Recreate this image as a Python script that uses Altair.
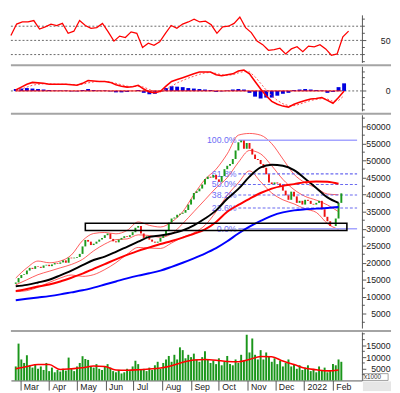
import altair as alt
import pandas as pd

# ---------------- data ----------------
START = "2021-02-24"

close = [14200, 15500, 16400, 16600, 17700, 18500, 18200, 19000, 18800, 18500,
         19200, 19400, 19000, 19500, 19900, 19700, 20100, 20700, 20000, 21500,
         21300, 21500, 21700, 22600, 24800, 26700, 26200, 25200, 25600, 26200,
         26800, 27300, 28100, 28600, 27000, 26300, 26000, 26800, 27300, 27800,
         27600, 28100, 29000, 30300, 30800, 28600, 27300, 27800, 26800, 26200,
         25900, 26200, 27300, 28000, 29500, 31800, 33000, 33300, 34100, 34400,
         34700, 35500, 37100, 38600, 40500, 41000, 41800, 43000, 44600, 45300,
         45000, 45800, 44500, 43800, 45500, 47500, 48500, 49000, 50500, 53000,
         55400, 55900, 53500, 55200, 53500, 51800, 50500, 50200, 49000, 47900,
         46000, 43600, 43100, 43600, 43300, 42500, 41200, 39800, 38500, 40900,
         39500, 37600, 38200, 37100, 38500, 38200, 37300, 37100, 37600, 38200,
         35700, 33500, 32200, 30800, 30800, 33000, 37600, 40400]
first_open = 13800

volume = [6000, 15800, 9000, 7500, 10800, 6500, 5500, 7000, 5000, 6000,
          4500, 7500, 4000, 5500, 3500, 4500, 3800, 5000, 4200, 9800,
          5000, 4000, 6000, 7500, 10400, 9200, 8800, 6000, 5500, 7000,
          5000, 4500, 6000, 7000, 5500, 4000, 3500, 4500, 3000, 3500,
          5000, 4000, 6000, 8500, 7000, 4500, 5000, 4000, 5500, 4500,
          6500, 8000, 5000, 7500, 9000, 10500, 8000, 11000, 9000, 14200,
          13000, 9500, 11000, 10000, 11500, 9000, 8000, 10000, 12500, 9000,
          7500, 8500, 7000, 9500, 6500, 8000, 10500, 7000, 6500, 9000,
          7500, 11000, 8500, 19600, 12000, 18000, 11000, 9000, 13000, 9000,
          12000, 10500, 8000, 9500, 7000, 8500, 6000, 7500, 9000, 6000,
          7000, 5000, 6500, 4500, 5500, 6500, 4000, 5000, 3500, 6000,
          4500, 5500, 3500, 4000, 7000, 6500, 9000, 8000]

ma_black = [13100, 13500, 14200, 15000, 16300, 17700, 19300, 20800, 21800, 23200,
            24700, 26200, 27600, 28000, 28600, 29500, 31000, 33000, 35400, 38800,
            41700, 45300, 48000, 48800, 48500, 47200, 44700, 42000, 39200, 37600]
ma_red = [11700, 12300, 13000, 13600, 14500, 15600, 16800, 18200, 19600, 21000,
          22300, 23500, 24500, 25500, 26400, 27400, 28500, 29800, 32000, 35000,
          37000, 38800, 40500, 41800, 42600, 43100, 43700, 43900, 43800, 43200]
ma_blue = [9000, 9400, 9800, 10200, 10700, 11300, 11900, 12700, 13600, 14500,
           15400, 16200, 16900, 17700, 18800, 20000, 21300, 22700, 24300, 26300,
           28600, 30600, 32300, 33800, 34800, 35400, 35700, 35900, 36100, 36400]
bb_upper = [15500, 18500, 20500, 20000, 20500, 22300, 26500, 28600, 28900, 28500,
            29500, 32000, 31000, 30500, 32000, 35000, 40000, 44500, 47500, 52000,
            57500, 58000, 57500, 55000, 50500, 46000, 43500, 42000, 40200, 40000]
bb_middle = [13500, 15000, 16500, 17500, 18500, 19500, 21000, 23500, 25500, 26800,
             27000, 28200, 28000, 27500, 28500, 31500, 35000, 38500, 42000, 45000,
             49500, 53000, 52000, 48500, 44500, 41500, 39500, 38400, 37000, 35000]
bb_lower = [11500, 11800, 12800, 14200, 15500, 16400, 16000, 16500, 18000, 20000,
            22500, 24500, 24300, 24200, 25800, 27500, 28800, 31000, 35000, 39800,
            43500, 47000, 43800, 40500, 38500, 37300, 35800, 34800, 31500, 29800]
vol_ma = [5000, 6000, 6800, 6800, 4700, 5000, 5400, 6200, 6000, 4500,
          4400, 4600, 4900, 5300, 6300, 7800, 8800, 9000, 8700, 8100,
          8000, 9000, 10300, 10200, 8300, 6800, 5200, 4600, 4100, 4500]

rsi = [57, 73, 76, 76, 78, 66, 69, 73, 71, 74,
       60, 63, 78, 71, 67, 68, 74, 62, 49, 56,
       54, 62, 60, 40, 46, 43, 48, 60, 71, 67,
       73, 76, 80, 76, 77, 72, 60, 69, 70, 74,
       83, 68, 61, 49, 44, 36, 37, 39, 31, 38,
       41, 34, 42, 41, 44, 38, 29, 31, 55, 63]
macd = [1, 4, 7, 9, 8.5, 8, 7, 7, 7, 7,
        6.5, 6, 8, 11, 10.5, 10, 10, 9, 6.5, 5,
        4, 4.5, 6, 2, -1, -2, -0.5, 5, 10, 12,
        14, 16, 18, 20, 20, 20, 17, 16, 17, 18,
        21, 22, 18, 10, 2, -5, -11, -14, -16, -17,
        -14, -12, -10, -8.5, -8, -7, -10, -13, -7, 0]
signal = [0, 2, 4, 6, 7, 7.5, 7.5, 7.2, 7, 7,
          6.8, 6.5, 7, 8.5, 9.5, 10, 10, 9.5, 8, 6.5,
          5, 4.5, 5, 4, 1.5, -0.5, -1, 1.5, 5, 8.5,
          11, 13.5, 15.5, 17.5, 19, 19.5, 18.5, 17, 16.5, 17,
          19, 20.5, 20, 15, 8, 1, -5, -10, -13.5, -15.5,
          -15.5, -14, -12, -10, -9, -8, -8.5, -11, -10, -5]
hist = [2, 2.5, 3, 2.5, 2, 1.5, 1, 0.5, 0.5, 0.5,
        -0.5, -0.5, 1, 2, 1, 0.5, 0.5, -0.5, -1.5, -1.5,
        -1, 0, 1, -2, -3.5, -3, -1, 3, 5, 4.5,
        4, 3, 2.5, 2, 1.5, 1, -1, -0.5, 0.5, 1.5,
        2, 1.5, -2, -6, -8, -7, -7, -5, -3, -2,
        1, 1.5, 2, 1.5, 1, 0.5, -2, -1, 4, 8]

fib_solid_price = [56000, 30000]
fib_dash_price = [46100, 43000, 39900, 36100]
fib_price = [56000, 46100, 43000, 39900, 36100, 30000]
fib_label = ["100.0%", "61.8%", "50.0%", "38.2%", "23.6%", "0.0%"]

rsi_levels = [30, 50, 70]
rsi_ticks = [20, 30, 40, 60, 70, 80]
macd_ticks = [-20, -14, -7, 7, 14, 20]
price_minor = [2500, 7500, 12500, 17500, 22500, 27500, 32500, 37500, 42500,
               47500, 52500, 57500, 62500]
vol_minor = [2500, 7500, 12500, 17500, 20000]
month_ticks = [(2021, 3), (2021, 4), (2021, 5), (2021, 6), (2021, 7), (2021, 8),
               (2021, 9), (2021, 10), (2021, 11), (2021, 12), (2022, 1), (2022, 2)]

# ---------------- tables ----------------
def dstr(rng):
    return [d.strftime("%Y-%m-%d") for d in rng]

candle_dates = dstr(pd.date_range(START, periods=len(close), freq="3D"))
ind_dates = dstr(pd.date_range(START, periods=len(rsi), freq="6D"))
ma_dates = dstr(pd.date_range(START, periods=len(ma_black), freq="12D"))

opens = [first_open] + close[:-1]
candles = pd.DataFrame({
    "date": candle_dates, "open": opens, "close": close, "volume": volume,
    "dir": ["up" if c >= o else "down" for o, c in zip(opens, close)],
})
ma_df = pd.concat([
    pd.DataFrame({"date": ma_dates, "value": ma_black, "s": "a_black"}),
    pd.DataFrame({"date": ma_dates, "value": ma_red, "s": "b_red"}),
    pd.DataFrame({"date": ma_dates, "value": ma_blue, "s": "c_blue"}),
])
bb_df = pd.concat([
    pd.DataFrame({"date": ma_dates, "value": bb_upper, "b": "upper"}),
    pd.DataFrame({"date": ma_dates, "value": bb_middle, "b": "middle"}),
    pd.DataFrame({"date": ma_dates, "value": bb_lower, "b": "lower"}),
])
volma_df = pd.DataFrame({"date": ma_dates, "v": vol_ma})
ind_df = pd.DataFrame({"date": ind_dates, "rsi": rsi, "macd": macd,
                       "signal": signal, "hist": hist})
FIB_D0, FIB_D1, FIB_DL = "2021-10-22", "2022-02-27", "2021-10-20"
fib_solid_df = pd.DataFrame({"price": fib_solid_price, "d0": FIB_D0, "d1": FIB_D1})
fib_dash_df = pd.DataFrame({"price": fib_dash_price, "d0": FIB_D0, "d1": FIB_D1})
fib_text_df = pd.DataFrame({"price": fib_price, "label": fib_label, "dl": FIB_DL})
box_df = pd.DataFrame({"d0": ["2021-05-10"], "d1": ["2022-02-16"],
                       "p0": [29450], "p1": [31600]})
zero_df = pd.DataFrame({"d0": [candle_dates[0]], "d1": [candle_dates[-1]], "z": [0]})
one = pd.DataFrame({"k": [0]})

# ---------------- layout ----------------
W = 362
H_RSI, H_MACD, H_PRICE, H_VOL = 49, 46, 220, 50
FONT = "Liberation Sans"

xscale = alt.Scale(type="utc", domain=[alt.DateTime(year=2021, month=2, date=24, utc=True),
                                       alt.DateTime(year=2022, month=2, date=27, utc=True)])
X = alt.X("date:T", scale=xscale, axis=None)

AX = dict(orient="right", title=None, grid=False, domainColor="#555", tickColor="#555",
          tickSize=4, labelFont=FONT, labelFontSize=9, labelColor="#222",
          labelAlign="right", labelPadding=25, labelBaseline="middle", labelOverlap=False)


def sep():
    return alt.Chart(one).mark_rule(color="#a4a4a4", strokeWidth=2).encode(
        x=alt.value(0), x2=alt.value(W + 30), y=alt.value(-1))


def minor_ticks(vals, field, scale, axis):
    return alt.Chart(pd.DataFrame({field: vals})).mark_rule(color="#555", strokeWidth=1).encode(
        x=alt.value(W), x2=alt.value(W + 3), y=alt.Y(f"{field}:Q", scale=scale, axis=axis))


# RSI panel
rsi_scale = alt.Scale(domain=[19, 86], nice=False, zero=False)
rsi_axis = alt.Axis(values=[50], format="d", **AX)
rsi_lvl = alt.Chart(pd.DataFrame({"lvl": rsi_levels})).mark_rule(
    color="#666", strokeDash=[2, 2], strokeWidth=1).encode(
    y=alt.Y("lvl:Q", scale=rsi_scale, axis=rsi_axis))
rsi_line = alt.Chart(ind_df).mark_line(color="#ff0000", strokeWidth=1.3).encode(
    x=X, y=alt.Y("rsi:Q", scale=rsi_scale, axis=rsi_axis))
rsi_panel = alt.layer(rsi_lvl, minor_ticks(rsi_ticks, "t", rsi_scale, rsi_axis),
                      rsi_line).properties(width=W, height=H_RSI)

# MACD panel
m_scale = alt.Scale(domain=[-21, 26], nice=False, zero=False)
m_axis = alt.Axis(values=[0], format="d", **AX)
m_zero = alt.Chart(zero_df).mark_rule(color="#666", strokeDash=[2, 2]).encode(
    y=alt.Y("z:Q", scale=m_scale, axis=m_axis))
m_hist = alt.Chart(ind_df).mark_bar(color="#0000e0", size=4).encode(
    x=X, y=alt.Y("hist:Q", scale=m_scale, axis=m_axis), y2=alt.datum(0))
m_zero_red = alt.Chart(zero_df).mark_rule(color="#ff0000", strokeWidth=1).encode(
    x=alt.X("d0:T", scale=xscale, axis=None), x2="d1:T",
    y=alt.Y("z:Q", scale=m_scale, axis=m_axis))
m_sig = alt.Chart(ind_df).mark_line(color="#ff5050", strokeWidth=1, strokeDash=[2, 2]).encode(
    x=X, y=alt.Y("signal:Q", scale=m_scale, axis=m_axis))
m_line = alt.Chart(ind_df).mark_line(color="#ff0000", strokeWidth=1.6).encode(
    x=X, y=alt.Y("macd:Q", scale=m_scale, axis=m_axis))
macd_panel = alt.layer(m_zero, m_hist, m_zero_red, m_sig, m_line,
                       minor_ticks(macd_ticks, "t", m_scale, m_axis), sep()).properties(
    width=W, height=H_MACD)

# Price panel
p_scale = alt.Scale(domain=[800, 63500], nice=False, zero=False)
p_axis = alt.Axis(values=list(range(5000, 60001, 5000)), format="d", **AX)
YP = lambda f: alt.Y(f, scale=p_scale, axis=p_axis)

bands = alt.Chart(bb_df).mark_line(color="#ff3030", strokeWidth=0.8, interpolate="monotone").encode(
    x=X, y=YP("value:Q"), detail="b:N")
fib_solid = alt.Chart(fib_solid_df).mark_rule(strokeWidth=1.5, color="#a4a4ff").encode(
    x=alt.X("d0:T", scale=xscale, axis=None), x2="d1:T", y=YP("price:Q"))
fib_dash = alt.Chart(fib_dash_df).mark_rule(strokeWidth=1.2, color="#6a6af0",
                                            strokeDash=[3, 2]).encode(
    x=alt.X("d0:T", scale=xscale, axis=None), x2="d1:T", y=YP("price:Q"))
fib_text = alt.Chart(fib_text_df).mark_text(align="right", baseline="middle", font=FONT,
                                            fontSize=9, color="#6c6cf5").encode(
    x=alt.X("dl:T", scale=xscale, axis=None), y=YP("price:Q"), text="label:N")
candle_bars = alt.Chart(candles).mark_bar(size=2).encode(
    x=X, y=YP("open:Q"), y2="close:Q",
    color=alt.Color("dir:N", scale=alt.Scale(domain=["up", "down"],
                                             range=["#1c9a1c", "#ee1111"]), legend=None))
ma_lines = alt.Chart(ma_df).mark_line(strokeWidth=2, interpolate="monotone").encode(
    x=X, y=YP("value:Q"),
    stroke=alt.Stroke("s:N", scale=alt.Scale(domain=["a_black", "b_red", "c_blue"],
                                             range=["#000000", "#ff0000", "#0000ff"]), legend=None))
box = alt.Chart(box_df).mark_rect(fill=None, stroke="#000", strokeWidth=1.6, fillOpacity=0).encode(
    x=alt.X("d0:T", scale=xscale, axis=None), x2="d1:T", y=YP("p0:Q"), y2="p1:Q")
price_panel = alt.layer(bands, fib_solid, fib_dash, fib_text, candle_bars, ma_lines, box,
                        minor_ticks(price_minor, "t", p_scale, p_axis), sep()).properties(
    width=W, height=H_PRICE)

# Volume panel
v_scale = alt.Scale(domain=[0, 20800], nice=False, zero=False)
v_axis = alt.Axis(values=[5000, 10000, 15000], format="d", **AX)
x_axis = alt.Axis(values=[alt.DateTime(year=y, month=m, date=1, utc=True) for y, m in month_ticks],
                  labelExpr="utcFormat(datum.value, '%m') == '01' ? utcFormat(datum.value, '%Y') : utcFormat(datum.value, '%b')",
                  labelAlign="left", labelBaseline="top", labelPadding=-8, labelOffset=3,
                  tickSize=10, title=None, grid=False, domainColor="#555", tickColor="#555",
                  labelFont=FONT, labelFontSize=9, labelColor="#222", labelOverlap=False,
                  labelFlush=False)
XV = alt.X("date:T", scale=xscale, axis=x_axis)
vol_bars = alt.Chart(candles).mark_bar(size=2, color="#1a961a").encode(
    x=XV, y=alt.Y("volume:Q", scale=v_scale, axis=v_axis))
vol_line = alt.Chart(volma_df).mark_line(color="#ff0000", strokeWidth=1.6, interpolate="monotone").encode(
    x=XV, y=alt.Y("v:Q", scale=v_scale, axis=v_axis))
x1000_box = alt.Chart(one).mark_rect(fill="#ffffff", stroke="#888", strokeWidth=0.8).encode(
    x=alt.value(W + 1), x2=alt.value(W + 27), y=alt.value(H_VOL - 7), y2=alt.value(H_VOL))
x1000_txt = alt.Chart(one).mark_text(text="x1000", font=FONT, fontSize=6.5, align="left",
                                     baseline="middle", color="#333").encode(
    x=alt.value(W + 2), y=alt.value(H_VOL - 3.5))
corner = alt.Chart(one).mark_rect(fill="#e6e6e6").encode(
    x=alt.value(W + 1), x2=alt.value(W + 30), y=alt.value(H_VOL + 1), y2=alt.value(H_VOL + 11))
vol_panel = alt.layer(vol_bars, vol_line, corner, x1000_box, x1000_txt,
                      minor_ticks(vol_minor, "t", v_scale, v_axis), sep()).properties(
    width=W, height=H_VOL)

chart = alt.vconcat(rsi_panel, macd_panel, price_panel, vol_panel, spacing=2).properties(
    padding=0).configure_view(stroke=None)

chart.save("out.html", embed_options={"renderer": "svg", "actions": False})
